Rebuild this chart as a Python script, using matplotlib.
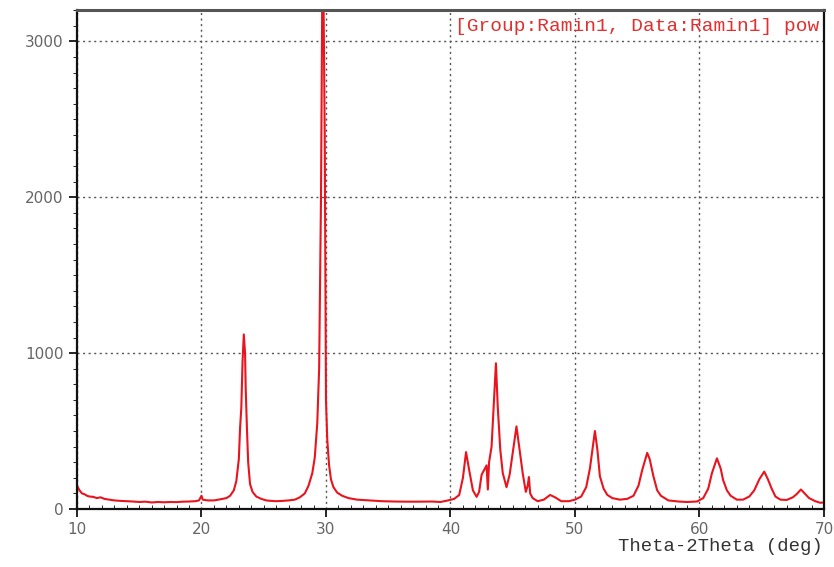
import matplotlib
matplotlib.use("Agg")
from matplotlib import pyplot as plt
from matplotlib.ticker import MultipleLocator

# XRD pattern (2theta in deg, intensity in counts)
two_theta = [
    10.0, 10.1, 10.2, 10.4, 10.6, 10.8, 11.0, 11.3, 11.6, 11.9, 12.2, 12.6,
    13.0, 13.5, 14.0, 14.5, 15.0, 15.5, 16.0, 16.5, 17.0, 17.5, 18.0, 18.5,
    19.0, 19.5, 19.8, 20.0, 20.1, 20.5, 21.0, 21.5, 22.0, 22.3, 22.6, 22.8,
    23.0, 23.1, 23.2, 23.3, 23.4, 23.5, 23.55, 23.65, 23.75, 23.9, 24.1, 24.4,
    24.8, 25.2, 25.6, 26.0, 26.5, 27.0, 27.5, 27.9, 28.3, 28.6, 28.9, 29.1,
    29.3, 29.45, 29.6, 29.7, 29.8, 29.9, 30.0, 30.1, 30.25, 30.4, 30.6, 30.9,
    31.3, 31.8, 32.5, 33.5, 34.5, 35.5, 36.5, 37.5, 38.5, 39.2, 39.8, 40.3,
    40.7, 41.0, 41.25, 41.5, 41.8, 42.1, 42.3, 42.5, 42.7, 42.9, 43.0, 43.1,
    43.3, 43.5, 43.65, 43.8, 44.0, 44.2, 44.5, 44.75, 45.0, 45.3, 45.55, 45.8,
    46.05, 46.2, 46.3, 46.4, 46.6, 47.0, 47.5, 48.0, 48.4, 48.9, 49.5, 50.0,
    50.5, 50.9, 51.2, 51.6, 51.8, 52.0, 52.3, 52.6, 53.0, 53.6, 54.2, 54.7,
    55.1, 55.4, 55.8, 56.0, 56.3, 56.6, 56.9, 57.5, 58.3, 59.0, 59.8, 60.3,
    60.7, 61.0, 61.4, 61.7, 61.9, 62.2, 62.5, 63.0, 63.5, 64.0, 64.4, 64.8,
    65.2, 65.5, 65.8, 66.1, 66.5, 67.0, 67.5, 67.8, 68.15, 68.5, 68.8, 69.3,
    69.7, 70.0,
]
counts = [
    150, 135, 120, 100, 95, 85, 80, 78, 70, 75, 65, 60,
    55, 52, 50, 48, 45, 47, 42, 45, 43, 45, 44, 47,
    48, 50, 55, 85, 60, 55, 55, 62, 70, 85, 120, 180,
    320, 520, 650, 950, 1120, 1000, 780, 520, 300, 160, 110, 80,
    65, 55, 52, 50, 52, 55, 60, 75, 100, 150, 230, 330,
    550, 900, 2000, 3300, 3300, 2400, 700, 450, 280, 190, 140, 105,
    85, 70, 60, 55, 50, 48, 47, 47, 48, 45, 55, 65,
    90, 200, 365, 250, 120, 78, 110, 220, 250, 280, 125, 300,
    400, 700, 935, 650, 380, 230, 140, 220, 360, 530, 380, 230,
    110, 150, 205, 100, 70, 50, 60, 90, 75, 50, 50, 60,
    80, 140, 260, 500, 380, 210, 130, 90, 70, 60, 65, 85,
    150, 250, 360, 320, 210, 120, 85, 55, 48, 45, 48, 70,
    130, 230, 325, 260, 185, 120, 85, 60, 60, 80, 120, 190,
    240, 190, 130, 80, 60, 58, 75, 95, 125, 95, 70, 50,
    40, 42,
]

fig = plt.figure(figsize=(8.34, 5.67), dpi=100)
ax = fig.add_axes([0.0923, 0.1023, 0.8957, 0.8797])

ax.plot(two_theta, counts, color="#e8141e", linewidth=1.5)

ax.set_xlim(10, 70)
ax.set_ylim(0, 3200)
ax.xaxis.set_major_locator(MultipleLocator(10))
ax.xaxis.set_minor_locator(MultipleLocator(1))
ax.yaxis.set_major_locator(MultipleLocator(1000))
ax.yaxis.set_minor_locator(MultipleLocator(100))

ax.grid(True, which="major", color="#555555", linestyle=(0, (1.5, 2.5)), linewidth=1)
ax.tick_params(axis="both", which="major", labelsize=11, labelcolor="#666666",
               direction="out", length=6, width=1.2)
ax.tick_params(axis="x", which="minor", direction="in", length=3)
ax.tick_params(axis="y", which="minor", direction="out", length=3)

for side in ["left", "bottom", "right"]:
    ax.spines[side].set_linewidth(1.6)
    ax.spines[side].set_color("#111111")
ax.spines["top"].set_linewidth(2.2)
ax.spines["top"].set_color("#555555")

ax.text(0.993, 0.985, "[Group:Ramin1, Data:Ramin1] pow", transform=ax.transAxes,
        ha="right", va="top", color="#e03030", fontsize=14, family="Liberation Mono")
fig.text(0.986, 0.022, "Theta-2Theta (deg)", ha="right", va="bottom",
         color="#333333", fontsize=13.6, family="Liberation Mono")

plt.savefig("out.png")
